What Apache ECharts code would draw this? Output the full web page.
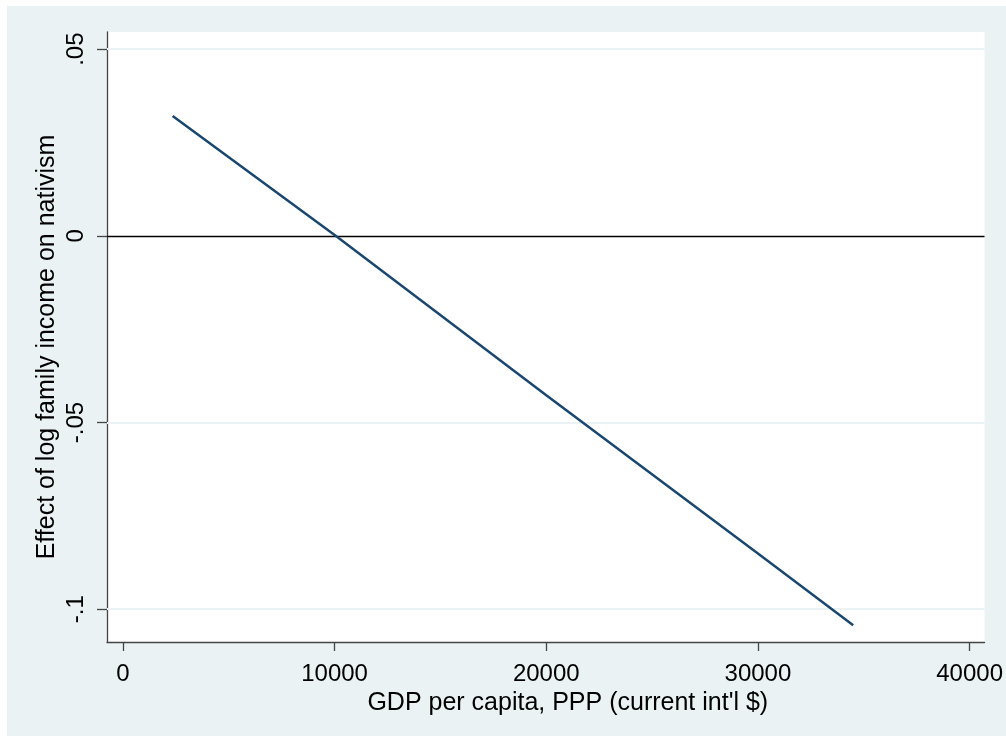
<!DOCTYPE html>
<html>
<head>
<meta charset="utf-8">
<script src="https://cdn.jsdelivr.net/npm/echarts@6/dist/echarts.min.js"></script>
<style>
  html, body { margin: 0; padding: 0; background: #fff; }
  #chart { width: 1006px; height: 736px; }
</style>
</head>
<body>
<div id="chart"></div>
<script>
// points
var gdp = [2350, 10050, 20000, 30000, 34500];
var effect = [0.0321, 0, -0.0427, -0.0851, -0.1043];
var xTicks = [0, 10000, 20000, 30000, 40000];
var yTicks = [0.05, 0, -0.05, -0.1];
var yTickText = {'0.05': '.05', '0': '0', '-0.05': '-.05', '-0.1': '-.1'};

var bg = '#EAF2F3';
var font = 'Liberation Sans, Arial, sans-serif';

var lineData = gdp.map(function (g, i) { return [g, effect[i]]; });

// gridlines (light) and the zero line (black)
var refLines = yTicks.filter(function (v) { return v !== 0; }).map(function (v) {
  return { yAxis: v, lineStyle: { color: bg, width: 2, type: 'solid' } };
});
refLines.push({ yAxis: 0, lineStyle: { color: '#000', width: 1.3, type: 'solid' } });

var chart = echarts.init(document.getElementById('chart'));
chart.setOption({
  backgroundColor: bg,
  animation: false,
  graphic: [
    { type: 'rect', shape: { x: 0, y: 0, width: 1006, height: 6 }, style: { fill: '#fff' }, silent: true },
    { type: 'rect', shape: { x: 0, y: 0, width: 7, height: 736 }, style: { fill: '#fff' }, silent: true }
  ],
  grid: {
    left: 107, right: 16, top: 32, bottom: 94,
    show: true, backgroundColor: '#fff', borderWidth: 0
  },
  xAxis: {
    type: 'value',
    min: -751, max: 40704,
    name: "GDP per capita, PPP (current int'l $)",
    nameLocation: 'middle',
    nameGap: 41,
    nameTextStyle: { fontFamily: font, fontSize: 25, color: '#000', padding: [0, 0, 0, 44] },
    axisLine: { show: true, onZero: false, lineStyle: { color: '#444', width: 1.3 } },
    axisTick: { show: true, length: 9, customValues: xTicks, lineStyle: { color: '#444', width: 1.3 } },
    axisLabel: {
      customValues: xTicks, margin: 20, fontFamily: font, fontSize: 24, color: '#000',
      formatter: function (v) { return String(v); }
    },
    splitLine: { show: false }
  },
  yAxis: {
    type: 'value',
    min: -0.1088, max: 0.0546,
    name: 'Effect of log family income on nativism',
    nameLocation: 'middle',
    nameGap: 47,
    nameMoveOverlap: false,
    nameTextStyle: { fontFamily: font, fontSize: 25, color: '#000', padding: [0, 20, 0, 0] },
    axisLine: { show: true, onZero: false, lineStyle: { color: '#444', width: 1.3 } },
    axisTick: { show: true, length: 10, customValues: yTicks, lineStyle: { color: '#444', width: 1.3 } },
    axisLabel: {
      customValues: yTicks, rotate: 90, margin: 19,
      fontFamily: font, fontSize: 24, color: '#000',
      formatter: function (v) { return yTickText[String(Math.round(v * 100) / 100)]; }
    },
    splitLine: { show: false }
  },
  series: [{
    type: 'line',
    data: lineData,
    showSymbol: false,
    symbol: 'none',
    lineStyle: { color: '#1A476F', width: 2.5 },
    markLine: {
      silent: true,
      symbol: 'none',
      label: { show: false },
      z: 1,
      data: refLines
    },
    z: 3
  }]
});
</script>
</body>
</html>
